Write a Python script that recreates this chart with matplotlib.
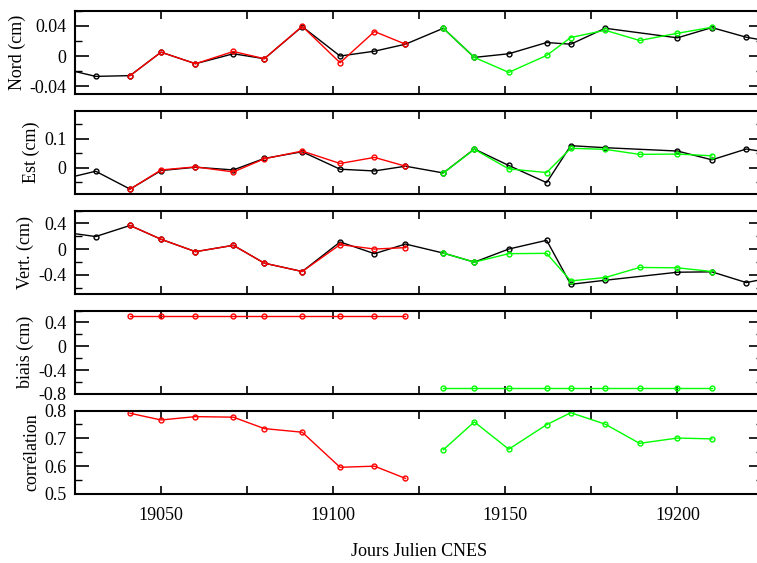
import matplotlib
matplotlib.use('Agg')
import matplotlib.pyplot as plt
from matplotlib.ticker import MultipleLocator, FuncFormatter

plt.rcParams['font.family'] = ['Liberation Serif', 'DejaVu Serif']
plt.rcParams['axes.unicode_minus'] = False

# black series (dates in CNES julian days)
blackDays = [19021, 19031, 19041, 19050, 19060, 19071, 19080, 19091, 19102, 19112, 19121,
             19132, 19141, 19151, 19162, 19169, 19179, 19200, 19210, 19220, 19230]
blackNord = [-0.016, -0.0268, -0.0258, 0.0051, -0.0101, 0.0030, -0.0035, 0.0388, 0.0, 0.0064, 0.0156,
             0.0366, -0.0018, 0.0030, 0.0178, 0.0156, 0.0366, 0.0240, 0.0375, 0.0248, 0.0167]
blackEst = [-0.040, -0.0115, -0.0732, -0.0091, 0.0024, -0.0070, 0.0327, 0.0557, -0.0045, -0.0105, 0.0059,
            -0.0174, 0.0652, 0.0084, -0.0509, 0.0767, 0.0697, 0.0582, 0.0279, 0.0652, 0.0467]
blackVert = [0.268, 0.1945, 0.367, 0.152, -0.041, 0.058, -0.22, -0.35, 0.11, -0.072, 0.078,
             -0.063, -0.204, 0.0, 0.136, -0.549, -0.486, -0.361, -0.355, -0.522, -0.416]

# red series
redDays = [19041, 19050, 19060, 19071, 19080, 19091, 19102, 19112, 19121]
redNord = [-0.0258, 0.0051, -0.0101, 0.0060, -0.0035, 0.0392, -0.0088, 0.0323, 0.0156]
redEst = [-0.0732, -0.007, 0.0035, -0.0139, 0.0314, 0.0582, 0.0153, 0.0362, 0.0059]
redVert = [0.367, 0.152, -0.041, 0.058, -0.22, -0.35, 0.069, 0.0, 0.022]
redBiais = [0.5, 0.5, 0.5, 0.5, 0.5, 0.5, 0.5, 0.5, 0.5]
redCorr = [0.790, 0.766, 0.778, 0.776, 0.735, 0.722, 0.596, 0.600, 0.556]

# green series
greenDays = [19132, 19141, 19151, 19162, 19169, 19179, 19189, 19200, 19210]
greenNord = [0.0366, -0.0018, -0.0215, 0.0008, 0.0244, 0.0340, 0.0205, 0.0300, 0.0379]
greenEst = [-0.0174, 0.0641, -0.0035, -0.016, 0.0676, 0.0641, 0.0467, 0.0477, 0.0418]
greenVert = [-0.063, -0.204, -0.072, -0.067, -0.496, -0.444, -0.287, -0.292, -0.35]
greenBiais = [-0.7, -0.7, -0.7, -0.7, -0.7, -0.7, -0.7, -0.7, -0.7]
greenCorr = [0.659, 0.759, 0.661, 0.749, 0.792, 0.751, 0.682, 0.701, 0.698]

panelLabels = ['Nord (cm)', 'Est (cm)', 'Vert. (cm)', 'biais (cm)', 'corrélation']
panelLims = [(-0.05, 0.06), (-0.09, 0.198), (-0.7, 0.6), (-0.8, 0.6), (0.5, 0.8)]
panelMajor = [0.04, 0.1, 0.4, 0.4, 0.1]
panelMinor = [0.02, 0.05, 0.2, 0.2, 0.05]

series = [
    [(blackDays, blackNord, 'k'), (redDays, redNord, 'r'), (greenDays, greenNord, '#00ff00')],
    [(blackDays, blackEst, 'k'), (redDays, redEst, 'r'), (greenDays, greenEst, '#00ff00')],
    [(blackDays, blackVert, 'k'), (redDays, redVert, 'r'), (greenDays, greenVert, '#00ff00')],
    [(redDays, redBiais, 'r'), (greenDays, greenBiais, '#00ff00')],
    [(redDays, redCorr, 'r'), (greenDays, greenCorr, '#00ff00')],
]

W, H = 757, 563
fig = plt.figure(figsize=(W / 100., H / 100.), dpi=100)

fmt = FuncFormatter(lambda v, p: '%g' % round(v, 6))

axes = []
for i in range(5):
    top = 10.5 + 100 * i
    height = 83.5
    ax = fig.add_axes([75. / W, 1 - (top + height) / H, 688.5 / W, height / H])
    for days, vals, col in series[i]:
        ax.plot(days, vals, '-o', color=col, lw=1.0, ms=3.5, mfc='none', mec=col, mew=1.0)
    ax.set_xlim(19025, 19225)
    ax.set_ylim(*panelLims[i])
    ax.xaxis.set_major_locator(MultipleLocator(50))
    ax.xaxis.set_minor_locator(MultipleLocator(25))
    ax.yaxis.set_major_locator(MultipleLocator(panelMajor[i]))
    ax.yaxis.set_minor_locator(MultipleLocator(panelMinor[i]))
    if i == 3:
        ax.set_yticks([-0.8, -0.4, 0, 0.4])
    ax.yaxis.set_major_formatter(fmt)
    ax.tick_params(which='both', direction='in', top=True, right=True, labelsize=13)
    ax.tick_params(axis='y', which='major', length=10, width=1.2, pad=6)
    ax.tick_params(axis='y', which='minor', length=5, width=1.0)
    ax.tick_params(axis='x', which='both', length=6, width=1.2, pad=9)
    for sp in ax.spines.values():
        sp.set_linewidth(1.5)
    ax.set_ylabel(panelLabels[i], fontsize=13, labelpad=3)
    if i < 4:
        ax.tick_params(axis='x', labelbottom=False)
    axes.append(ax)

axes[-1].xaxis.set_major_formatter(FuncFormatter(lambda v, p: '%d' % v))
axes[-1].set_xlabel('Jours Julien CNES', fontsize=13, labelpad=14)

fig.savefig('out.png', dpi=100)
